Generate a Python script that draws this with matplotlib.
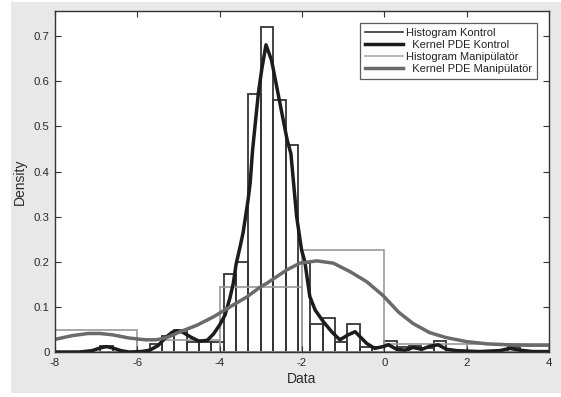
import numpy as np
import matplotlib
matplotlib.use("Agg")
import matplotlib.pyplot as plt
from matplotlib.lines import Line2D

plt.rcParams['font.family'] = ['Liberation Sans', 'DejaVu Sans']
plt.rcParams['axes.unicode_minus'] = False

# histogram Kontrol (bin width 0.3, left edges)
kontrol_left = [-6.9, -6.6, -6.3, -6.0, -5.7, -5.4, -5.1, -4.8, -4.5, -4.2,
                -3.9, -3.6, -3.3, -3.0, -2.7, -2.4, -2.1, -1.8, -1.5, -1.2,
                -0.9, -0.6, -0.3, 0.0, 0.3, 0.6, 0.9, 1.2, 1.5, 1.8,
                2.1, 2.4, 2.7, 3.0]
kontrol_dens = [0.013, 0.0, 0.0, 0.0, 0.017, 0.036, 0.049, 0.023, 0.023, 0.023,
                0.174, 0.199, 0.571, 0.721, 0.559, 0.459, 0.197, 0.062, 0.075, 0.023,
                0.062, 0.012, 0.012, 0.025, 0.012, 0.013, 0.009, 0.025, 0.0, 0.0,
                0.0, 0.0, 0.0, 0.012]
kontrol_width = 0.3

# histogram Manipulator (bin width 2)
manip_left = [-8, -6, -4, -2, 0, 2]
manip_dens = [0.049, 0.027, 0.145, 0.226, 0.018, 0.018]
manip_width = 2.0

# kernel density curves
kde_k_x = [-8.0, -7.4, -7.1, -6.9, -6.75, -6.6, -6.4, -6.2, -5.9, -5.7,
           -5.5, -5.3, -5.15, -5.04, -4.9, -4.7, -4.5, -4.3, -4.15, -4.0,
           -3.87, -3.75, -3.67, -3.6, -3.5, -3.43, -3.31, -3.26, -3.2, -3.06,
           -2.98, -2.875, -2.74, -2.535, -2.36, -2.27, -2.13, -2.01, -1.93, -1.89,
           -1.81, -1.68, -1.48, -1.28, -1.08, -0.88, -0.71, -0.59, -0.43, -0.23,
           -0.03, 0.1, 0.3, 0.5, 0.7, 0.91, 1.11, 1.31, 1.51, 1.76,
           2.3, 2.8, 3.05, 3.3, 3.6, 4.0]
kde_k_y = [0.000, 0.000, 0.003, 0.009, 0.012, 0.009, 0.003, 0.000, 0.001, 0.004,
           0.014, 0.033, 0.044, 0.047, 0.044, 0.033, 0.024, 0.026, 0.040, 0.060,
           0.082, 0.120, 0.152, 0.195, 0.235, 0.265, 0.337, 0.374, 0.448, 0.574,
           0.625, 0.681, 0.647, 0.551, 0.470, 0.440, 0.300, 0.226, 0.200, 0.174,
           0.123, 0.093, 0.067, 0.045, 0.027, 0.038, 0.045, 0.034, 0.019, 0.008,
           0.012, 0.016, 0.006, 0.004, 0.010, 0.006, 0.013, 0.016, 0.006, 0.003,
           0.001, 0.003, 0.008, 0.004, 0.001, 0.001]

kde_m_x = [-8.0, -7.6, -7.2, -6.9, -6.6, -6.2, -6.0, -5.8, -5.55, -5.37,
           -5.2, -4.96, -4.56, -4.15, -3.75, -3.34, -3.0, -2.86, -2.37, -2.05,
           -1.64, -1.24, -0.83, -0.43, -0.03, 0.35, 0.7, 1.1, 1.5, 2.0,
           2.5, 3.0, 3.5, 4.0]
kde_m_y = [0.028, 0.036, 0.041, 0.041, 0.038, 0.031, 0.029, 0.027, 0.027, 0.030,
           0.035, 0.045, 0.059, 0.078, 0.100, 0.122, 0.145, 0.152, 0.182, 0.197,
           0.202, 0.197, 0.178, 0.156, 0.125, 0.088, 0.063, 0.043, 0.032, 0.023,
           0.018, 0.016, 0.015, 0.015]

fig = plt.figure(figsize=(5.61, 3.97), dpi=100)
# grey panel behind the axes
bg = fig.add_axes([11 / 561, 4 / 397, 550 / 561, 391 / 397], zorder=-5)
bg.set_facecolor('#e8e8e8')
bg.set_xticks([])
bg.set_yticks([])
for s in bg.spines.values():
    s.set_visible(False)

ax = fig.add_axes([55 / 561, 45 / 397, 494 / 561, 341 / 397])

ax.bar(kontrol_left, kontrol_dens, width=kontrol_width, align='edge', fill=False,
       edgecolor='#353535', linewidth=1.3)
ax.plot(kde_k_x, kde_k_y, color='#1c1c1c', lw=2.5)
ax.bar(manip_left, manip_dens, width=manip_width, align='edge', fill=False,
       edgecolor='#9a9a9a', linewidth=1.2)
ax.plot(kde_m_x, kde_m_y, color='#6a6a6a', lw=2.5)

ax.set_xlim(-8, 4)
ax.set_ylim(0, 0.756)
ax.set_xticks([-8, -6, -4, -2, 0, 2, 4])
ax.set_xticklabels(['-8', '-6', '-4', '-2', '0', '2', '4'])
ax.set_yticks([0, 0.1, 0.2, 0.3, 0.4, 0.5, 0.6, 0.7])
ax.set_yticklabels(['0', '0.1', '0.2', '0.3', '0.4', '0.5', '0.6', '0.7'])
ax.tick_params(direction='in', length=4.5, width=0.8, colors='#333333', labelsize=8.2,
               top=True, right=True, pad=4)
for lbl in ax.get_xticklabels() + ax.get_yticklabels():
    lbl.set_color('#2a2a2a')
for s in ax.spines.values():
    s.set_color('#333333')
    s.set_linewidth(1.0)
ax.set_xlabel('Data', fontsize=10, color='#2a2a2a', labelpad=3)
ax.set_ylabel('Density', fontsize=10, color='#2a2a2a', labelpad=5)

# legend with proxy lines, as in the picture
handles = [Line2D([], [], color='#353535', lw=1.2),
           Line2D([], [], color='#1c1c1c', lw=2.5),
           Line2D([], [], color='#aaaaaa', lw=1.2),
           Line2D([], [], color='#6a6a6a', lw=2.5)]
labels = ['Histogram Kontrol', '  Kernel PDE Kontrol', 'Histogram Manipülatör',
          '  Kernel PDE Manipülatör']
leg = ax.legend(handles, labels, loc='upper right', bbox_to_anchor=(0.9757, 0.9657),
                fontsize=8, frameon=True, fancybox=False, borderpad=0.45,
                handlelength=3.4, handletextpad=0.25, labelspacing=0.18,
                borderaxespad=0)
leg.get_frame().set_edgecolor('#333333')
leg.get_frame().set_linewidth(0.9)
for t in leg.get_texts():
    t.set_color('#222222')

fig.savefig('out.png', dpi=100)
